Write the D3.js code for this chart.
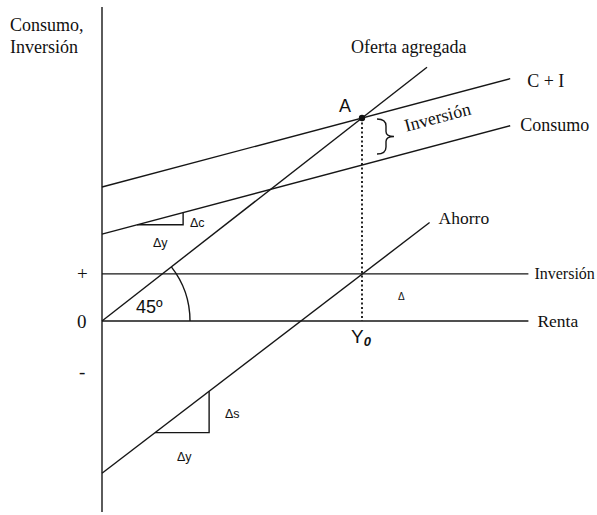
<!DOCTYPE html>
<html>
<head>
<meta charset="utf-8">
<script src="https://cdn.jsdelivr.net/npm/d3@7"></script>
<style>
  body { margin: 0; background: #fff; }
  .serif { font-family: "Liberation Serif", "Times New Roman", serif; fill: #111; }
  .sans { font-family: "Liberation Sans", Arial, sans-serif; fill: #111; }
  .ln { stroke: #161616; stroke-width: 1.4; fill: none; }
</style>
</head>
<body>
<div id="container"></div>
<script>
var width = 597,
    height = 515;

// renta (Y) where the economy is in equilibrium
var Y0 = 100;

// lines, as [renta, value] end points
var oferta    = [[0, 0], [125, 125]];
var cMasI     = [[0, 66], [157, 119.4]];
var consumo   = [[0, 42.8], [157, 96.2]];
var inversion = [[0, 23.2], [164, 23.2]];
var renta     = [[0, 0], [164, 0]];
var ahorro    = [[0, -75], [126, 48.5]];

// small slope triangles
var trianguloC = [13.5, 31.2];
var trianguloS = [20.4, 41.2];

var x = d3.scaleLinear().domain([0, 100]).range([102, 362]);
var y = d3.scaleLinear().domain([0, 100]).range([321, 118]);

var svg = d3.select("#container").append("svg")
    .attr("width", width)
    .attr("height", height);

var line = d3.line()
    .x(function(d) { return x(d[0]); })
    .y(function(d) { return y(d[1]); });

// vertical axis
svg.append("line")
    .attr("class", "ln")
    .attr("x1", x(0)).attr("x2", x(0))
    .attr("y1", 7).attr("y2", 512);

[oferta, cMasI, consumo, inversion, renta, ahorro].forEach(function(d) {
  svg.append("path").attr("class", "ln").attr("d", line(d));
});

// value on a line at renta u
function at(l, u) {
  var a = l[0], b = l[1];
  return a[1] + (b[1] - a[1]) * (u - a[0]) / (b[0] - a[0]);
}

// slope triangles
function triangulo(l, t) {
  var v0 = at(l, t[0]), v1 = at(l, t[1]);
  svg.append("path").attr("class", "ln")
      .attr("d", line([[t[0], v0], [t[1], v0], [t[1], v1]]));
}
triangulo(consumo, trianguloC);
triangulo(ahorro, trianguloS);

// 45 degree arc
var r = 88;
var ang = Math.atan2(y(0) - y(oferta[1][1]), x(oferta[1][0]) - x(0));
svg.append("path").attr("class", "ln")
    .attr("d", "M" + (x(0) + r) + "," + y(0) +
      " A" + r + "," + r + " 0 0 0 " + (x(0) + r * Math.cos(ang)) + "," + (y(0) - r * Math.sin(ang)));

// dotted line from A
svg.append("line")
    .attr("x1", x(Y0)).attr("x2", x(Y0))
    .attr("y1", y(at(cMasI, Y0))).attr("y2", y(0))
    .attr("stroke", "#111")
    .attr("stroke-width", 1.8)
    .attr("stroke-dasharray", "2,2.5");

svg.append("circle")
    .attr("cx", x(Y0)).attr("cy", y(at(cMasI, Y0)))
    .attr("r", 3.2)
    .attr("fill", "#111");

// brace between C+I and Consumo
var bx = x(Y0) + 15, by0 = y(at(cMasI, Y0)) + 1, by1 = y(at(consumo, Y0)) - 11;
var bm = (by0 + by1) / 2;
svg.append("path").attr("class", "ln").attr("stroke-width", 1.2)
    .attr("d", "M" + bx + "," + by0 +
      " Q" + (bx + 9) + "," + by0 + " " + (bx + 9) + "," + (by0 + 7) +
      " L" + (bx + 9) + "," + (bm - 5) +
      " Q" + (bx + 9) + "," + bm + " " + (bx + 17) + "," + bm +
      " Q" + (bx + 9) + "," + bm + " " + (bx + 9) + "," + (bm + 5) +
      " L" + (bx + 9) + "," + (by1 - 7) +
      " Q" + (bx + 9) + "," + by1 + " " + bx + "," + by1);

function text(cls, s, tx, ty, size) {
  return svg.append("text")
      .attr("class", cls)
      .attr("x", tx).attr("y", ty)
      .style("font-size", size + "px")
      .text(s);
}

// serif labels
text("serif", "Consumo,", 10, 31, 18);
text("serif", "Inversión", 10, 53, 18);
text("serif", "Oferta agregada", x(oferta[1][0]) - 76, 53, 18);
text("serif", "C + I", x(cMasI[1][0]) + 17, y(cMasI[1][1]) + 8, 18);
text("serif", "Consumo", x(consumo[1][0]) + 10, y(consumo[1][1]) + 5, 18);
text("serif", "Inversión", x(inversion[1][0]) + 6, y(inversion[1][1]) + 5, 16);
text("serif", "Renta", x(renta[1][0]) + 9, y(renta[1][1]) + 6, 17.5);
text("serif", "Ahorro", x(ahorro[1][0]) + 9, y(ahorro[1][1]) + 1, 17.5);
text("serif", "+", 77, y(inversion[0][1]) + 6, 19);
text("serif", "0", 77, y(0) + 7, 19);
text("serif", "-", 79, y(0) + 57, 19);

svg.append("text")
    .attr("class", "serif")
    .attr("transform", "translate(" + (x(Y0) + 77) + "," + (y(at(cMasI, Y0)) + 5) + ") rotate(-15)")
    .attr("text-anchor", "middle")
    .style("font-size", "18px")
    .text("Inversión");

// sans labels
text("sans", "A", x(Y0) - 23, y(at(cMasI, Y0)) - 6, 18);
text("sans", "45º", 136, 313, 18);
text("sans", "Δ", 398, 300, 10);
text("sans", "Δc", 190, 227, 12.5);
text("sans", "Δy", 153, 247, 12.5);
text("sans", "Δs", 225, 418, 12.5);
text("sans", "Δy", 177, 461, 12.5);

var y0 = svg.append("text")
    .attr("class", "sans")
    .attr("x", x(Y0) - 11).attr("y", y(0) + 22)
    .style("font-size", "19px");
y0.append("tspan").text("Y");
y0.append("tspan")
    .attr("dy", 3)
    .style("font-size", "13px")
    .style("font-style", "italic")
    .style("font-weight", "bold")
    .text("0");
</script>
</body>
</html>
